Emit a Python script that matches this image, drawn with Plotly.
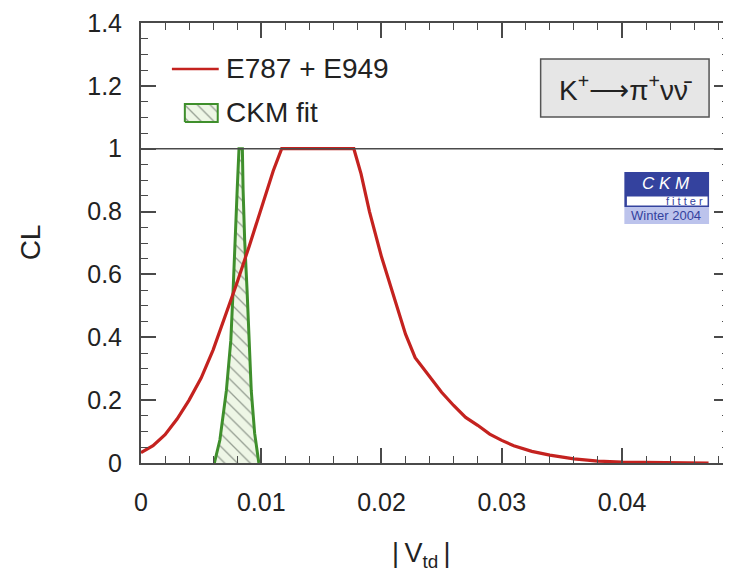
import plotly.graph_objects as go

# E787 + E949 CL curve
e_x = [0.0, 0.001, 0.002, 0.003, 0.004, 0.005, 0.006, 0.007, 0.008, 0.009, 0.010, 0.011, 0.0117,
       0.0177, 0.0183, 0.019, 0.020, 0.021, 0.022, 0.0228, 0.024, 0.025, 0.026, 0.027, 0.028,
       0.029, 0.030, 0.031, 0.0325, 0.034, 0.036, 0.038, 0.040, 0.043, 0.0472]
e_y = [0.033, 0.055, 0.09, 0.14, 0.20, 0.27, 0.36, 0.465, 0.575, 0.69, 0.81, 0.93, 1.0,
       1.0, 0.92, 0.80, 0.656, 0.53, 0.41, 0.335, 0.275, 0.225, 0.183, 0.145, 0.12,
       0.092, 0.072, 0.055, 0.037, 0.025, 0.013, 0.006, 0.003, 0.001, 0.0]

# CKM fit CL (closed contour: left edge up, right edge down)
ckm_x = [0.0061, 0.00656, 0.0071, 0.00747, 0.00766, 0.0078, 0.0080, 0.00815,
         0.00843, 0.00849, 0.00862, 0.00882, 0.00898, 0.00917, 0.00945, 0.0098]
ckm_y = [0.0, 0.073, 0.23, 0.39, 0.55, 0.71, 0.87, 1.0,
         1.0, 0.87, 0.71, 0.55, 0.39, 0.23, 0.095, 0.0]

x_range = [0, 0.0489]
y_range = [0, 1.4]

RED = "#c4221f"
GREEN = "#3f8f2c"
AX = "#4a4a4a"
FONT = "Liberation Sans, Arial, Helvetica, sans-serif"

# page offset (browser body margin) compensation
OFF = 8
W, H = 731 - OFF, 579 - OFF
L, T = 141 - OFF, 23 - OFF
PW, PH = 590, 440
B = H - T - PH


def px(xp):
    return (xp - 141) / PW


def py(yp):
    return (463 - yp) / PH


fig = go.Figure()

fig.add_trace(go.Scatter(
    x=ckm_x, y=ckm_y, mode="lines", fill="toself",
    line=dict(color=GREEN, width=3),
    fillcolor="#eef6e6",
    fillpattern=dict(shape="\\", fgcolor="#3f4a42", bgcolor="#eef6e6", size=9, solidity=0.15),
    showlegend=False, hoverinfo="skip"))

fig.add_trace(go.Scatter(
    x=e_x, y=e_y, mode="lines",
    line=dict(color=RED, width=3.2),
    showlegend=False, hoverinfo="skip"))

# legend symbol for CKM fit (hatched box) on overlay axes in fraction units
fig.add_trace(go.Scatter(
    x=[px(185), px(218), px(218), px(185), px(185)],
    y=[py(122), py(122), py(104), py(104), py(122)],
    xaxis="x2", yaxis="y2", mode="lines", fill="toself",
    line=dict(color=GREEN, width=2),
    fillcolor="#eef6e6",
    fillpattern=dict(shape="\\", fgcolor="#3f4a42", bgcolor="#eef6e6", size=9, solidity=0.15),
    showlegend=False, hoverinfo="skip"))

shapes = [
    # CL = 1 line
    dict(type="line", xref="paper", yref="y", x0=0, x1=1, y0=1, y1=1,
         line=dict(color=AX, width=1.5)),
    # legend red line
    dict(type="line", xref="paper", yref="paper", x0=px(172), x1=px(219),
         y0=py(69), y1=py(69), line=dict(color=RED, width=2.5)),
    # K box
    dict(type="rect", xref="paper", yref="paper", x0=px(542), x1=px(711),
         y0=py(117), y1=py(59), fillcolor="#e6e6e6",
         line=dict(color="#555555", width=1.5)),
    # CKMfitter logo
    dict(type="rect", xref="paper", yref="paper", x0=px(626), x1=px(711),
         y0=py(207), y1=py(172), fillcolor="#34429e", line=dict(width=0)),
    dict(type="rect", xref="paper", yref="paper", x0=px(628), x1=px(710),
         y0=py(206), y1=py(196), fillcolor="white",
         line=dict(color="#34429e", width=1)),
    dict(type="rect", xref="paper", yref="paper", x0=px(626), x1=px(711),
         y0=py(224), y1=py(207), fillcolor="#bcc3ec", line=dict(width=0)),
]

annotations = [
    dict(text="E787 + E949", xref="paper", yref="paper", x=px(224), y=py(69),
         xanchor="left", yanchor="middle", showarrow=False,
         font=dict(size=28, color="#222", family=FONT)),
    dict(text="CKM fit", xref="paper", yref="paper", x=px(224), y=py(112),
         xanchor="left", yanchor="middle", showarrow=False,
         font=dict(size=28, color="#222", family=FONT)),
    dict(text="K<sup>+</sup>\u27f6\u03c0<sup>+</sup>\u03bd\u03bd\u0304",
         xref="paper", yref="paper", x=px(627), y=py(88),
         xanchor="center", yanchor="middle", showarrow=False,
         font=dict(size=28, color="#222", family=FONT)),
    dict(text="<i>C K M</i>", xref="paper", yref="paper", x=px(668), y=py(183),
         xanchor="center", yanchor="middle", showarrow=False,
         font=dict(size=17, color="white", family=FONT)),
    dict(text="f i t t e r", xref="paper", yref="paper", x=px(707), y=py(201),
         xanchor="right", yanchor="middle", showarrow=False,
         font=dict(size=11, color="#34429e", family=FONT)),
    dict(text="Winter 2004", xref="paper", yref="paper", x=px(668), y=py(216),
         xanchor="center", yanchor="middle", showarrow=False,
         font=dict(size=13, color="#34429e", family=FONT)),
    dict(text="CL", xref="paper", yref="paper", x=px(31), y=py(242),
         xanchor="center", yanchor="middle", showarrow=False, textangle=-90,
         font=dict(size=28, color="#222", family=FONT)),
    dict(text="|\u2009V<sub>td</sub>\u2009|", xref="paper", yref="paper", x=px(422), y=py(555),
         xanchor="center", yanchor="middle", showarrow=False,
         font=dict(size=27, color="#222", family=FONT)),
]

fig.update_layout(
    width=W, height=H,
    margin=dict(l=L, r=0, t=T, b=B),
    paper_bgcolor="white", plot_bgcolor="white",
    font=dict(family=FONT, color="#222"),
    showlegend=False,
    shapes=shapes, annotations=annotations,
    xaxis=dict(range=x_range, tick0=0, dtick=0.01, ticks="inside", ticklen=15, tickwidth=1.5,
               tickcolor=AX, showline=True, linecolor=AX, linewidth=2, mirror="ticks",
               showgrid=False, zeroline=False, ticklabelstandoff=16,
               tickfont=dict(size=25, color="#222", family=FONT),
               minor=dict(dtick=0.002, tick0=0, ticks="inside", ticklen=7, tickwidth=1.2,
                          tickcolor=AX, showgrid=False)),
    yaxis=dict(range=y_range, tick0=0, dtick=0.2, ticks="inside", ticklen=15, tickwidth=1.5,
               tickcolor=AX, showline=True, linecolor=AX, linewidth=2, mirror="ticks",
               showgrid=False, zeroline=False, ticklabelstandoff=12,
               tickfont=dict(size=25, color="#222", family=FONT),
               minor=dict(dtick=0.05, tick0=0, ticks="inside", ticklen=7, tickwidth=1.2,
                          tickcolor=AX, showgrid=False)),
    xaxis2=dict(range=[0, 1], overlaying="x", visible=False, fixedrange=True),
    yaxis2=dict(range=[0, 1], overlaying="y", visible=False, fixedrange=True),
)

fig.write_html("out.html")
